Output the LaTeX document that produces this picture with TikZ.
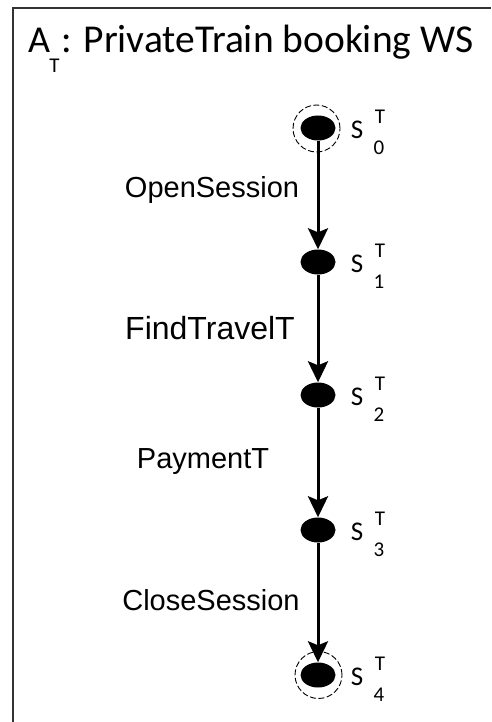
\documentclass[tikz,border=0pt]{standalone}
\usepackage{fontspec}
\usetikzlibrary{shapes.geometric,arrows.meta}
\newfontfamily\calfont{Carlito}
\newfontfamily\arifont{Liberation Sans}
\begin{document}
\begin{tikzpicture}[x=1pt,y=-1pt,
  state/.style={ellipse, fill=black, minimum width=35pt, minimum height=25pt, inner sep=0pt},
  ring/.style={circle, draw, dashed, dash pattern=on 6pt off 2.5pt, line width=0.9pt, minimum size=47pt, inner sep=0pt},
  flow/.style={line width=3pt, -{Stealth[length=21pt,width=20pt,inset=4pt]}},
  sname/.style={font=\calfont\fontsize{27}{27}\selectfont, inner sep=0pt},
  sidx/.style={font=\calfont\fontsize{21}{21}\selectfont, inner sep=0pt},
  act/.style={font=\arifont\fontsize{29}{29}\selectfont, inner sep=0pt},
  frame/.style={draw=black!80, line width=1.3pt}]
\useasboundingbox (0,0) rectangle (491,722);

% outer frame (top and left edges)
\draw[frame] (13,722) -- (13,8) -- (491,8);

% title
\node[font=\calfont\fontsize{38}{38}\selectfont, inner sep=0pt, anchor=base west] (titleA) at (28,53) {A};
\node[font=\calfont\fontsize{21}{21}\selectfont, inner sep=0pt] (titleT) at (54.5,66) {T};
\node[font=\calfont\fontsize{39.5}{39.5}\selectfont, inner sep=0pt, anchor=base west] (titlerest) at (61,53) {: PrivateTrain booking WS};

% states
\node[state] (s0) at (318,128) {};
\node[state] (s1) at (318,262) {};
\node[state] (s2) at (318,395) {};
\node[state] (s3) at (318,530) {};
\node[state] (s4) at (318,675) {};

% initial and final markers
\node[ring] (r0) at (316.5,128.5) {};
\node[ring] (r4) at (318.5,675) {};

% state labels
\foreach \i/\y in {0/128,1/262,2/395,3/530,4/675}{
  \node[sname] (n\i) at (357,\y+2) {S};
  \node[sidx] (t\i) at (380,\y-11) {T};
  \node[sidx] (d\i) at (379,\y+20) {\i};
}

% transitions
\draw[flow] (s0) -- (s1);
\draw[flow] (s1) -- (s2);
\draw[flow] (s2) -- (s3);
\draw[flow] (s3) -- (s4);

% action labels
\node[act] (a0) at (212,190) {OpenSession};
\node[act, font=\arifont\fontsize{32}{32}\selectfont] (a1) at (210,328) {FindTravelT};
\node[act] (a2) at (203,462) {PaymentT};
\node[act] (a3) at (211,600) {CloseSession};
\end{tikzpicture}
\end{document}
